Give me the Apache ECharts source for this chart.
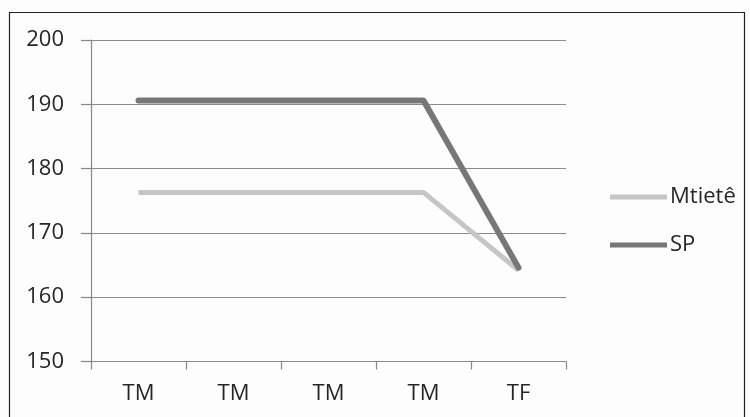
<!DOCTYPE html>
<html>
<head>
<meta charset="utf-8">
<script src="https://cdn.jsdelivr.net/npm/echarts@6/dist/echarts.min.js"></script>
<style>
  html, body { margin: 0; padding: 0; background: #fdfdfd; }
  #chart { width: 750px; height: 417px; }
</style>
</head>
<body>
<div id="chart"></div>
<script>
// Stages on the horizontal axis
const categories = ['TM', 'TM', 'TM', 'TM', 'TF'];
// Series values
const mtieteValues = [176.3, 176.3, 176.3, 176.3, 164.2];
const spValues = [190.6, 190.6, 190.6, 190.6, 164.6];
// Value axis range
const yMin = 150;
const yMax = 200;
const yStep = 10;

const fontFamily = '"Open Sans", "Noto Sans", sans-serif';
const textColor = '#262626';
const chart = echarts.init(document.getElementById('chart'));

chart.setOption({
  backgroundColor: '#fdfdfd',
  animation: false,
  graphic: [{
    type: 'rect',
    shape: { x: 9.5, y: 12.5, width: 735, height: 420 },
    style: { fill: 'none', stroke: '#222', lineWidth: 1.2 },
    silent: true
  }],
  grid: { left: 91, right: 184, top: 40, bottom: 55.5 },
  legend: {
    orient: 'vertical',
    left: 605,
    top: 181,
    itemWidth: 57,
    itemHeight: 5,
    itemGap: 26,
    icon: 'rect',
    textStyle: { fontFamily, fontSize: 22, color: textColor, padding: [0, 0, 0, -2] },
    data: ['Mtietê', 'SP']
  },
  xAxis: {
    type: 'category',
    data: categories,
    boundaryGap: true,
    axisLine: { lineStyle: { color: '#888', width: 1.2 } },
    axisTick: { show: true, length: 8, lineStyle: { color: '#888', width: 1.2 } },
    axisLabel: { fontFamily, fontSize: 22, color: textColor, margin: 21 }
  },
  yAxis: {
    type: 'value',
    min: yMin,
    max: yMax,
    interval: yStep,
    axisLine: { show: true, lineStyle: { color: '#888', width: 1.2 } },
    axisTick: { show: true, length: 10, lineStyle: { color: '#888', width: 1.2 } },
    axisLabel: { fontFamily, fontSize: 22, color: textColor, margin: 27 },
    splitLine: { lineStyle: { color: '#8a8a8a', width: 1.2 } }
  },
  series: [
    {
      name: 'Mtietê',
      type: 'line',
      data: mtieteValues,
      symbol: 'none',
      color: '#c6c6c6',
      lineStyle: { color: '#c6c6c6', width: 5 }
    },
    {
      name: 'SP',
      type: 'line',
      data: spValues,
      symbol: 'none',
      color: '#777777',
      lineStyle: { color: '#777777', width: 6, cap: 'round', join: 'round' }
    }
  ]
});
</script>
</body>
</html>
